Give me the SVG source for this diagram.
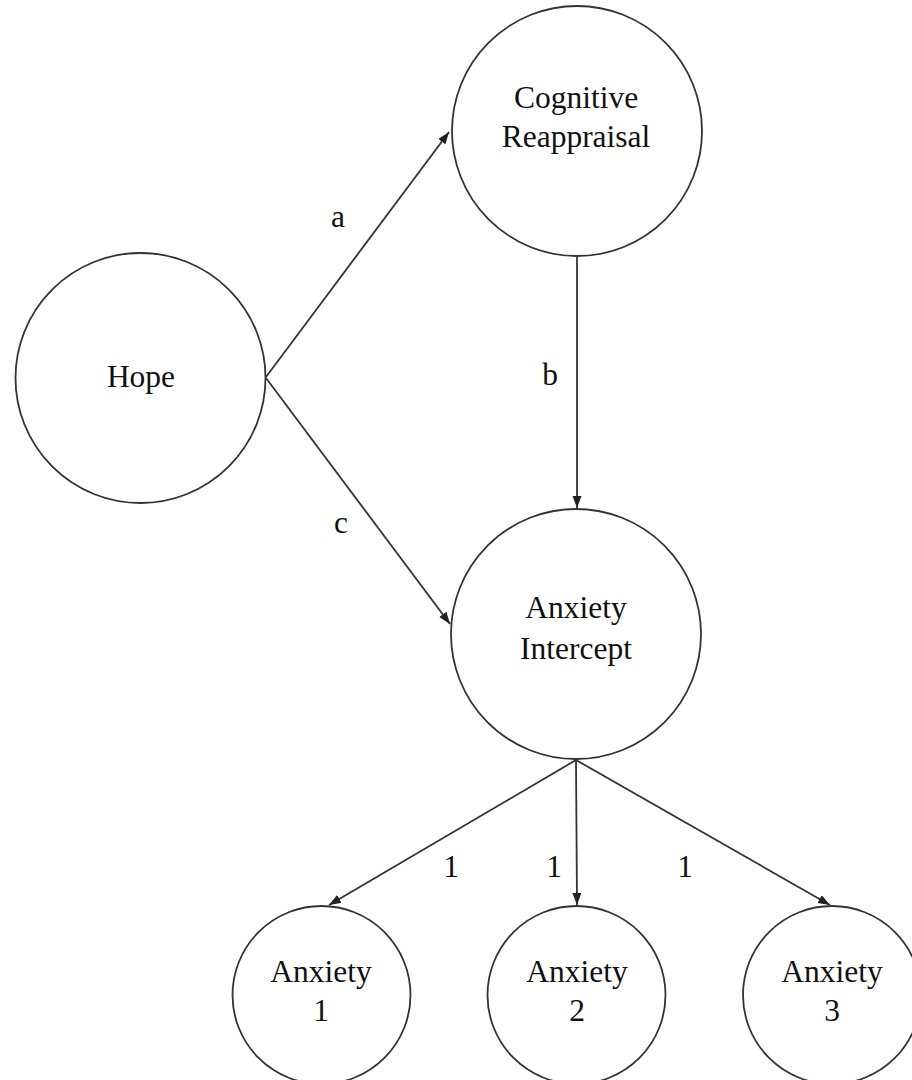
<svg xmlns="http://www.w3.org/2000/svg" width="912" height="1080" viewBox="0 0 912 1080" font-family="'Liberation Serif', 'Times New Roman', serif">
  <style>
    .node { fill: #ffffff; stroke: #333333; stroke-width: 1.8; }
    .edge { fill: none; stroke: #333333; stroke-width: 1.8; marker-end: url(#arrow); }
    text { font-family: "Liberation Serif", "Times New Roman", serif; font-size: 31.5px; fill: #111111; text-anchor: middle; }
  </style>
  <defs>
    <marker id="arrow" markerUnits="userSpaceOnUse" markerWidth="12" markerHeight="10" refX="12" refY="4.5" orient="auto">
      <path d="M0,0 L12,4.5 L0,9 z" fill="#222222"/>
    </marker>
  </defs>
  <rect width="912" height="1080" fill="#ffffff"/>

  <!-- connectors -->
  <g id="connectors">
    <line class="edge" x1="266" y1="377" x2="449" y2="132"/>
    <line class="edge" x1="266" y1="378" x2="450" y2="624"/>
    <line class="edge" x1="577" y1="257" x2="577" y2="508"/>
    <line class="edge" x1="576" y1="760" x2="329" y2="905"/>
    <line class="edge" x1="576" y1="760" x2="577" y2="905"/>
    <line class="edge" x1="576" y1="760" x2="830" y2="905"/>
    <text x="338" y="227">a</text>
    <text x="550" y="385">b</text>
    <text x="341" y="533">c</text>
    <text x="451" y="877">1</text>
    <text x="554" y="877">1</text>
    <text x="685" y="877">1</text>
  </g>

  <g id="hope">
    <circle class="node" cx="140.5" cy="378" r="125"/>
    <text x="141" y="387">Hope</text>
  </g>

  <g id="cognitive-reappraisal">
    <circle class="node" cx="577" cy="131" r="125"/>
    <text x="576" y="108">Cognitive</text>
    <text x="576" y="147">Reappraisal</text>
  </g>

  <g id="anxiety-intercept">
    <circle class="node" cx="576" cy="634" r="125"/>
    <text x="576" y="618">Anxiety</text>
    <text x="576" y="659">Intercept</text>
  </g>

  <g id="anxiety-1">
    <circle class="node" cx="321.5" cy="995" r="89"/>
    <text x="321" y="982">Anxiety</text>
    <text x="321" y="1021">1</text>
  </g>

  <g id="anxiety-2">
    <circle class="node" cx="576.5" cy="995" r="89"/>
    <text x="577" y="982">Anxiety</text>
    <text x="577" y="1021">2</text>
  </g>

  <g id="anxiety-3">
    <circle class="node" cx="832" cy="995" r="89"/>
    <text x="832" y="982">Anxiety</text>
    <text x="832" y="1021">3</text>
  </g>
</svg>
